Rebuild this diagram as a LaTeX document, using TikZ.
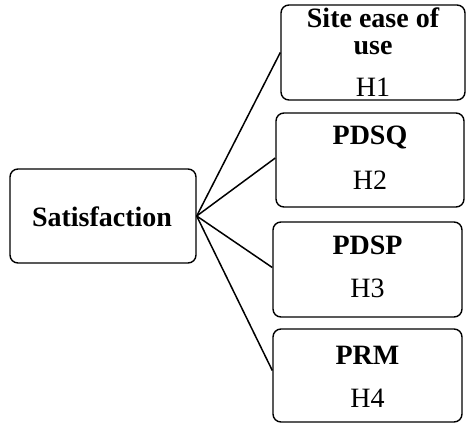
\documentclass[tikz,border=0pt]{standalone}
\usepackage{fontspec}
\setmainfont{Liberation Serif}
\begin{document}
\begin{tikzpicture}[x=1pt,y=-1pt,
  box/.style={draw, line width=1.4pt, rounded corners=8pt, inner sep=0pt},
  lbl/.style={inner sep=0pt, font=\fontsize{28}{30}\selectfont},
  blbl/.style={lbl, font=\fontsize{28}{30}\selectfont\bfseries},
  link/.style={line width=1.5pt}]
\useasboundingbox (0,0) rectangle (468,423);
% boxes
\node[box, minimum width=186, minimum height=94] (sat) at (103,216) {};
\node[box, minimum width=184, minimum height=95] (b1) at (373,52.5) {};
\node[box, minimum width=188, minimum height=94] (b2) at (370,160) {};
\node[box, minimum width=189, minimum height=95] (b3) at (367.5,269.5) {};
\node[box, minimum width=189, minimum height=93] (b4) at (367.5,375.5) {};
% labels
\node[blbl] (tsat) at (102,217) {Satisfaction};
\node[blbl] (t1a) at (373,18) {Site ease of};
\node[blbl] (t1b) at (373,48) {use};
\node[lbl] (t1c) at (373,87) {H1};
\node[blbl] (t2a) at (370,137) {PDSQ};
\node[lbl] (t2b) at (370,180) {H2};
\node[blbl] (t3a) at (367.5,245) {PDSP};
\node[lbl] (t3b) at (367.5,288) {H3};
\node[blbl] (t4a) at (367.5,355) {PRM};
\node[lbl] (t4b) at (367.5,398) {H4};
% connectors
\draw[link] (sat.east) -- (b1.west);
\draw[link] (sat.east) -- ([yshift=2pt]b2.west);
\draw[link] (sat.east) -- ([yshift=2pt]b3.west);
\draw[link] (sat.east) -- ([yshift=5pt]b4.west);
\end{tikzpicture}
\end{document}
